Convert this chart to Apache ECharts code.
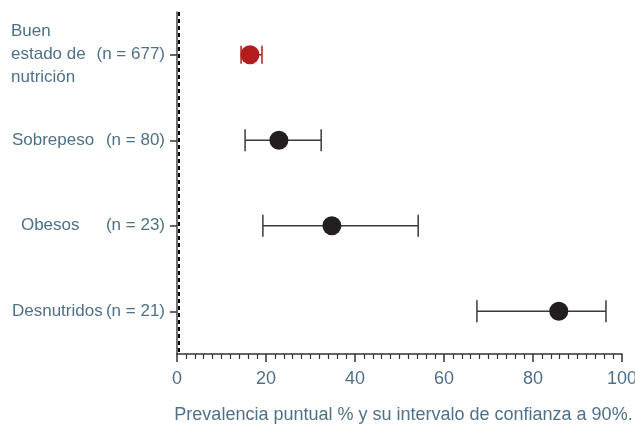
<!DOCTYPE html>
<html><head><meta charset="utf-8">
<script src="https://cdn.jsdelivr.net/npm/echarts@6/dist/echarts.min.js"></script>
<style>html,body{margin:0;padding:0;background:#fff}#c{width:635px;height:424px}</style>
</head><body><div id="c"></div>
<script>
var categories = ['Buen estado de nutrición', 'Sobrepeso', 'Obesos', 'Desnutridos'];
var nValues = [677, 80, 23, 21];
var prevalence = [16.4, 22.9, 34.8, 85.8];
var ciLow = [14.4, 15.3, 19.3, 67.4];
var ciHigh = [19.1, 32.4, 54.2, 96.4];
var xTicks = [0, 20, 40, 60, 80, 100];
var refLine = 0.5;

var FONT = '"Liberation Sans", Arial, sans-serif';
var FS = 17;
var TXT = '#4e7189';
var chart = echarts.init(document.getElementById('c'), null, {renderer: 'canvas'});

function yLabel(v, i) {
  var n = '(n = ' + nValues[i] + ')';
  if (i === 0) return '{a|Buen}{b| }\n{a|estado de}{b|' + n + '}\n{a|nutrición}{b| }';
  if (i === 2) return '{c|Obesos}{d|' + n + '}';
  return '{e|' + v + '}{d|' + n + '}';
}

var rowsCI = categories.map(function (c, i) { return [i, ciLow[i], ciHigh[i]]; });
var pts = categories.map(function (c, i) {
  return {value: [prevalence[i], i], itemStyle: {color: i === 0 ? '#b21d1d' : '#231f20', opacity: 1}};
});
function rs(extra) {
  var o = {color: TXT, fontSize: FS, fontFamily: FONT, lineHeight: 23};
  for (var k in extra) o[k] = extra[k];
  return o;
}

chart.setOption({
  animation: false,
  textStyle: {fontFamily: FONT},
  grid: {left: 177, right: 13, top: 12, bottom: 70, outerBoundsMode: 'none', containLabel: false},
  xAxis: {
    type: 'value', min: xTicks[0], max: xTicks[xTicks.length - 1], interval: 20,
    axisLine: {show: true, lineStyle: {color: '#333', width: 1.5}},
    axisTick: {show: true, length: 8, lineStyle: {color: '#333', width: 1.5}},
    minorTick: {show: true, splitNumber: 10, length: 5, lineStyle: {color: '#333', width: 1.2}},
    splitLine: {show: false},
    axisLabel: {color: TXT, fontSize: 18, fontFamily: FONT, margin: 16},
    name: 'Prevalencia puntual % y su intervalo de confianza a 90%.',
    nameLocation: 'middle', nameGap: 52,
    nameTextStyle: {color: TXT, fontSize: 18, fontFamily: FONT, padding: [0, 0, 0, 8]}
  },
  yAxis: {
    type: 'category', data: categories, inverse: true,
    axisLine: {show: true, lineStyle: {color: '#444', width: 1.5}},
    axisTick: {show: true, alignWithLabel: true, length: 7, lineStyle: {color: '#333', width: 1.5}},
    splitLine: {show: false},
    axisLabel: {
      margin: 12, formatter: yLabel, color: TXT, fontSize: FS, fontFamily: FONT, lineHeight: 23,
      rich: {
        a: rs({width: 84, align: 'left'}),
        b: rs({width: 70, align: 'right'}),
        c: rs({width: 85, align: 'left'}),
        d: rs({}),
        e: rs({width: 94, align: 'left'})
      }
    }
  },
  series: [
    {
      type: 'custom',
      data: rowsCI,
      encode: {x: [1, 2], y: 0},
      renderItem: function (params, api) {
        var i = api.value(0);
        var p1 = api.coord([api.value(1), i]);
        var p2 = api.coord([api.value(2), i]);
        var red = i === 0;
        var h = red ? 9 : 11;
        var st = {stroke: red ? '#b21d1d' : '#3a3a3a', lineWidth: 1.5};
        return {type: 'group', children: [
          {type: 'line', shape: {x1: p1[0], y1: p1[1], x2: p2[0], y2: p2[1]}, style: st},
          {type: 'line', shape: {x1: p1[0], y1: p1[1] - h, x2: p1[0], y2: p1[1] + h}, style: st},
          {type: 'line', shape: {x1: p2[0], y1: p2[1] - h, x2: p2[0], y2: p2[1] + h}, style: st}
        ]};
      },
      markLine: {
        silent: true, symbol: 'none', label: {show: false},
        lineStyle: {color: '#000', type: [4, 3], width: 2},
        data: [{xAxis: refLine}]
      },
      z: 2
    },
    {
      type: 'scatter', data: pts, symbol: 'circle', symbolSize: 19, z: 3
    }
  ]
});
</script></body></html>
